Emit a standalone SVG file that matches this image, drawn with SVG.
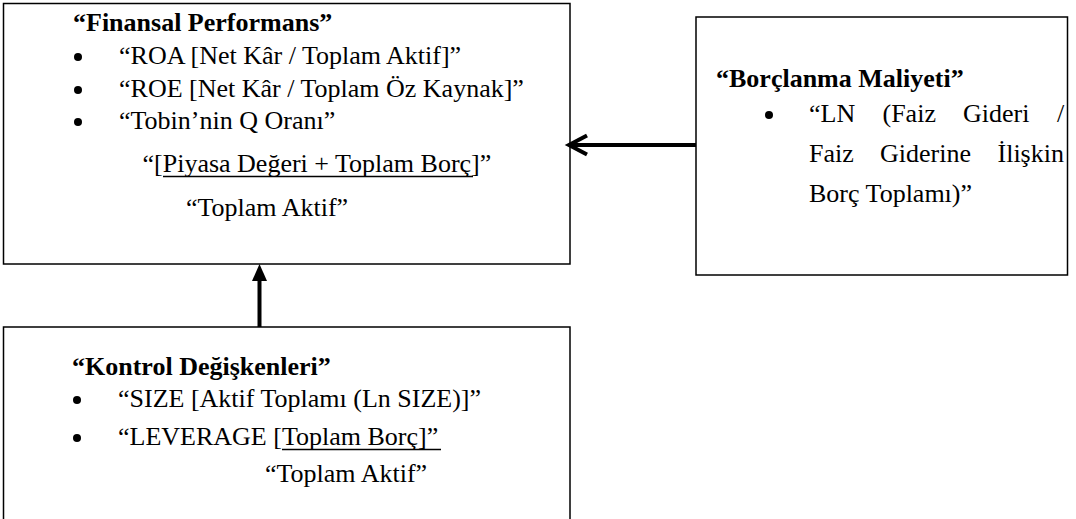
<svg xmlns="http://www.w3.org/2000/svg" width="1076" height="519" viewBox="0 0 1076 519">
<style>
.box{fill:#fff;stroke:#000;stroke-width:1.5}
.t{font-family:"Liberation Serif","Times New Roman",serif;font-size:26px;fill:#000}
.b{font-weight:bold}
.u{stroke:#000;stroke-width:1.5}
.ln{stroke:#000;stroke-width:4;fill:none}
</style>
<rect width="1076" height="519" fill="#fff"/>
<g id="finansal">
<rect class="box" x="3.5" y="3.5" width="566.5" height="260.5"/>
<text class="t b" x="73" y="31">“Finansal Performans”</text>
<circle cx="78" cy="57" r="4"/>
<text class="t" x="119" y="64">“ROA [Net Kâr / Toplam Aktif]”</text>
<circle cx="78" cy="90" r="4"/>
<text class="t" x="119" y="97">“ROE [Net Kâr / Toplam Öz Kaynak]”</text>
<circle cx="78" cy="122" r="4"/>
<text class="t" x="119" y="129">“Tobin’nin Q Oranı”</text>
<text class="t" x="142.5" y="172">“[Piyasa Değeri + Toplam Borç]”</text>
<line class="u" x1="163" y1="176.5" x2="473" y2="176.5"/>
<text class="t" x="186" y="216">“Toplam Aktif”</text>
</g>
<g id="borclanma">
<rect class="box" x="696" y="17" width="371.5" height="258"/>
<text class="t b" x="716" y="87">“Borçlanma Maliyeti”</text>
<circle cx="769" cy="115" r="4"/>
<text class="t" y="122"><tspan x="809">“LN</tspan><tspan x="882.5">(Faiz</tspan><tspan x="963">Gideri</tspan><tspan x="1057">/</tspan></text>
<text class="t" y="162"><tspan x="809">Faiz</tspan><tspan x="880">Giderine</tspan><tspan x="997.5">İlişkin</tspan></text>
<text class="t" x="809" y="202">Borç Toplamı)”</text>
</g>
<g id="kontrol">
<rect class="box" x="3.5" y="327" width="566.5" height="200"/>
<text class="t b" x="72" y="375">“Kontrol Değişkenleri”</text>
<circle cx="77" cy="400" r="4"/>
<text class="t" x="118" y="407">“SIZE [Aktif Toplamı (Ln SIZE)]”</text>
<circle cx="77" cy="438" r="4"/>
<text class="t" x="118" y="445">“LEVERAGE [Toplam Borç]”</text>
<line class="u" x1="282" y1="449.5" x2="441" y2="449.5"/>
<text class="t" x="265" y="482">“Toplam Aktif”</text>
</g>
<g id="connectors">
<line class="ln" x1="696" y1="145" x2="570" y2="145"/>
<polyline class="ln" points="587,135.5 569,145 587,154.5"/>
<line class="ln" x1="259.5" y1="327" x2="259.5" y2="278"/>
<polygon points="259.5,264 252,281 267,281" fill="#000"/>
</g>
</svg>
